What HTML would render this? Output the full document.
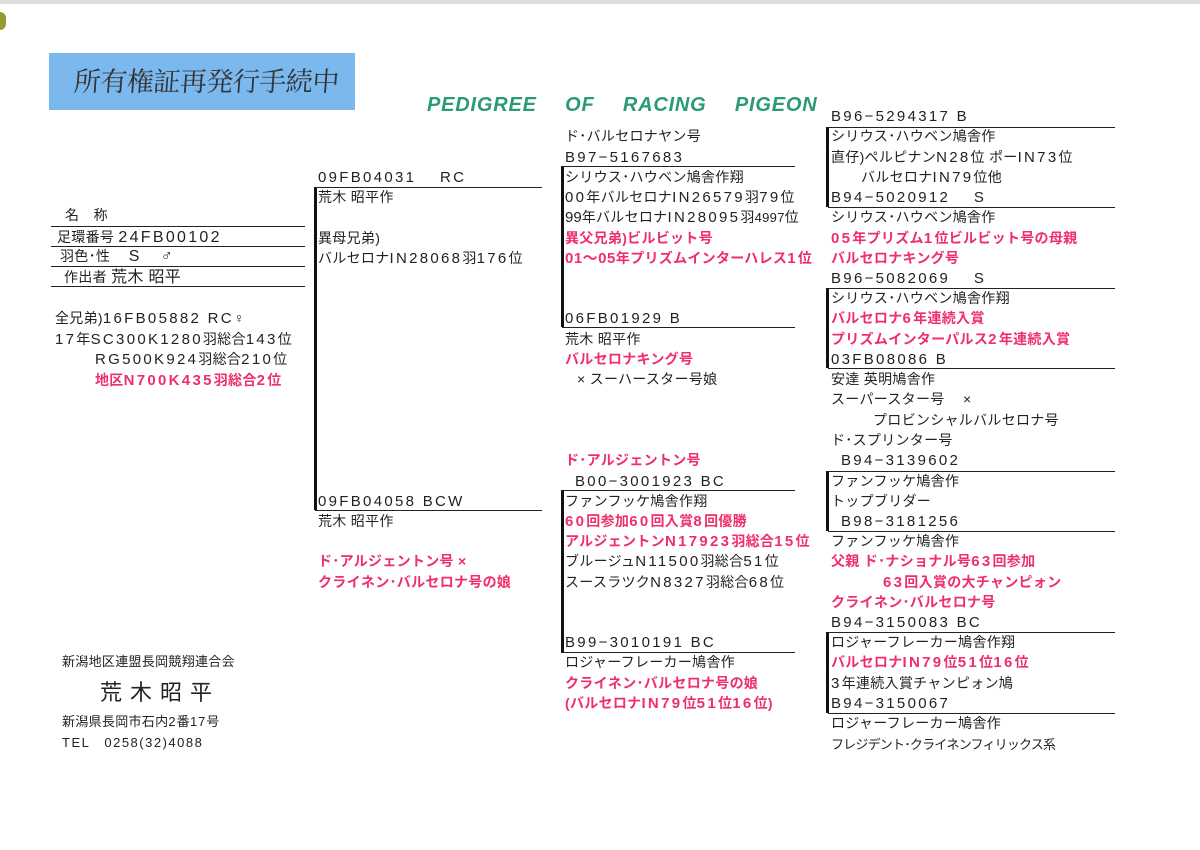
<!DOCTYPE html>
<html><head><meta charset="utf-8"><style>
body{margin:0;width:1200px;height:850px;background:#fff;position:relative;overflow:hidden;font-family:"Liberation Sans","Noto Sans CJK JP",sans-serif;color:#222;}
.t{position:absolute;font-size:14px;line-height:20px;white-space:nowrap;letter-spacing:0.3px}
.r{color:#ee2f6a;font-weight:bold}
.h{position:absolute;height:1px;background:#222}
.v{position:absolute;width:3px;background:#111}
em{font-style:normal;font-size:15px;letter-spacing:2.3px}
</style></head><body>
<div style="position:absolute;left:0;top:0;width:1200px;height:4px;background:#ddd"></div>
<div style="position:absolute;left:0;top:12px;width:6px;height:18px;background:#9a9a30;border-radius:0 6px 6px 0"></div>
<div style="position:absolute;left:49px;top:53px;width:306px;height:57px;background:#7ab8ee"></div>
<div class="t" style="left:74px;top:62px;font-size:27px;line-height:36px;font-family:'Noto Serif CJK SC',serif;color:#333;letter-spacing:-0.5px;transform:skewX(-4deg)">所有権証再発行手続中</div>
<div class="t" style="left:427px;top:94px;font-size:20px;line-height:22px;font-style:italic;font-weight:bold;color:#2a9a78;word-spacing:22px;letter-spacing:0.8px">PEDIGREE OF RACING PIGEON</div>

<!-- left info -->
<div class="t" style="left:65px;top:205px">名　称</div>
<div class="h" style="left:51px;top:226px;width:254px"></div>
<div class="t" style="left:57px;top:227px">足環番号 <em style="font-size:16px">24FB00102</em></div>
<div class="h" style="left:51px;top:246px;width:254px"></div>
<div class="t" style="left:60px;top:246px">羽色･性　 <span style="font-size:16px">S　 ♂</span></div>
<div class="h" style="left:51px;top:266px;width:254px"></div>
<div class="t" style="left:64px;top:267px">作出者 <span style="font-size:16px">荒木 昭平</span></div>
<div class="h" style="left:51px;top:286px;width:254px"></div>
<div class="t" style="left:55px;top:308px">全兄弟)<em>16FB05882  RC</em>♀</div>
<div class="t" style="left:55px;top:329px"><em>17</em>年<em>SC300K1280</em>羽総合<em>143</em>位</div>
<div class="t" style="left:95px;top:349px"><em>RG500K924</em>羽総合<em>210</em>位</div>
<div class="t r" style="left:95px;top:370px">地区<em>N700K435</em>羽総合<em>2</em>位</div>

<div class="t" style="left:62px;top:652px;font-size:13px">新潟地区連盟長岡競翔連合会</div>
<div class="t" style="left:100px;top:679px;font-size:22px;line-height:28px;letter-spacing:8px">荒木昭平</div>
<div class="t" style="left:62px;top:712px;font-size:13px">新潟県長岡市石内<em style="font-size:13px;letter-spacing:1px">2</em>番<em style="font-size:13px;letter-spacing:1px">17</em>号</div>
<div class="t" style="left:62px;top:733px;font-size:13px;letter-spacing:1.5px">TEL　0258(32)4088</div>

<!-- gen1 -->
<div class="v" style="left:314px;top:187px;height:323px"></div>
<div class="h" style="left:315px;top:187px;width:227px"></div>
<div class="h" style="left:315px;top:510px;width:227px"></div>
<div class="t" style="left:318px;top:167px"><em>09FB04031　 RC</em></div>
<div class="t" style="left:318px;top:187px">荒木 昭平作</div>
<div class="t" style="left:318px;top:228px">異母兄弟)</div>
<div class="t" style="left:318px;top:248px">バルセロナ<em>IN28068</em>羽<em>176</em>位</div>
<div class="t" style="left:318px;top:491px"><em>09FB04058  BCW</em></div>
<div class="t" style="left:318px;top:511px">荒木 昭平作</div>
<div class="t r" style="left:318px;top:551px">ド･アルジェントン号  ×</div>
<div class="t r" style="left:318px;top:572px">クライネン･バルセロナ号の娘</div>

<!-- gen2 -->
<div class="v" style="left:561px;top:166px;height:161px"></div>
<div class="h" style="left:562px;top:166px;width:233px"></div>
<div class="h" style="left:562px;top:327px;width:233px"></div>
<div class="v" style="left:561px;top:490px;height:163px"></div>
<div class="h" style="left:562px;top:490px;width:233px"></div>
<div class="h" style="left:562px;top:652px;width:233px"></div>
<div class="t" style="left:565px;top:126px">ド･バルセロナヤン号</div>
<div class="t" style="left:565px;top:147px"><em>B97−5167683</em></div>
<div class="t" style="left:565px;top:167px">シリウス･ハウベン鳩舎作翔</div>
<div class="t" style="left:565px;top:187px"><em>00</em>年バルセロナ<em>IN26579</em>羽<em>79</em>位</div>
<div class="t" style="left:565px;top:207px"><em style="letter-spacing:0">99</em>年バルセロナ<em>IN28095</em>羽<span style="font-size:13px">4997</span>位</div>
<div class="t r" style="left:565px;top:228px">異父兄弟)ビルビット号</div>
<div class="t r" style="left:565px;top:248px"><em style="letter-spacing:0.5px">01〜05</em>年プリズムインターハレス<em>1</em>位</div>
<div class="t" style="left:565px;top:308px"><em>06FB01929  B</em></div>
<div class="t" style="left:565px;top:329px">荒木 昭平作</div>
<div class="t r" style="left:565px;top:349px">バルセロナキング号</div>
<div class="t" style="left:577px;top:369px">×  スーハースター号娘</div>
<div class="t r" style="left:565px;top:450px">ド･アルジェントン号</div>
<div class="t" style="left:575px;top:471px"><em>B00−3001923  BC</em></div>
<div class="t" style="left:565px;top:491px">ファンフッケ鳩舎作翔</div>
<div class="t r" style="left:565px;top:511px"><em>60</em>回参加<em>60</em>回入賞<em>8</em>回優勝</div>
<div class="t r" style="left:565px;top:531px">アルジェントン<em>N17923</em>羽総合<em>15</em>位</div>
<div class="t" style="left:565px;top:551px">ブルージュ<em>N11500</em>羽総合<em>51</em>位</div>
<div class="t" style="left:565px;top:572px">スースラツク<em>N8327</em>羽総合<em>68</em>位</div>
<div class="t" style="left:565px;top:632px"><em>B99−3010191  BC</em></div>
<div class="t" style="left:565px;top:652px">ロジャーフレーカー鳩舎作</div>
<div class="t r" style="left:565px;top:673px">クライネン･バルセロナ号の娘</div>
<div class="t r" style="left:565px;top:693px">(バルセロナ<em>IN79</em>位<em>51</em>位<em>16</em>位)</div>

<!-- gen3 -->
<div class="v" style="left:826px;top:127px;height:80px"></div>
<div class="h" style="left:828px;top:127px;width:287px"></div>
<div class="h" style="left:828px;top:207px;width:287px"></div>
<div class="v" style="left:826px;top:288px;height:80px"></div>
<div class="h" style="left:828px;top:288px;width:287px"></div>
<div class="h" style="left:828px;top:368px;width:287px"></div>
<div class="v" style="left:826px;top:471px;height:60px"></div>
<div class="h" style="left:828px;top:471px;width:287px"></div>
<div class="h" style="left:828px;top:531px;width:287px"></div>
<div class="v" style="left:826px;top:632px;height:81px"></div>
<div class="h" style="left:828px;top:632px;width:287px"></div>
<div class="h" style="left:828px;top:713px;width:287px"></div>

<div class="t" style="left:831px;top:106px"><em>B96−5294317  B</em></div>
<div class="t" style="left:831px;top:126px">シリウス･ハウベン鳩舎作</div>
<div class="t" style="left:831px;top:147px">直仔)ペルピナン<em>N28</em>位  ポー<em>IN73</em>位</div>
<div class="t" style="left:861px;top:167px">バルセロナ<em>IN79</em>位他</div>
<div class="t" style="left:831px;top:187px"><em>B94−5020912　 S</em></div>
<div class="t" style="left:831px;top:207px">シリウス･ハウベン鳩舎作</div>
<div class="t r" style="left:831px;top:228px"><em>05</em>年プリズム<em>1</em>位ビルビット号の母親</div>
<div class="t r" style="left:831px;top:248px">バルセロナキング号</div>
<div class="t" style="left:831px;top:268px"><em>B96−5082069　 S</em></div>
<div class="t" style="left:831px;top:288px">シリウス･ハウベン鳩舎作翔</div>
<div class="t r" style="left:831px;top:308px">バルセロナ<em>6</em>年連続入賞</div>
<div class="t r" style="left:831px;top:329px">プリズムインターパルス<em>2</em>年連続入賞</div>
<div class="t" style="left:831px;top:349px"><em>03FB08086  B</em></div>
<div class="t" style="left:831px;top:369px">安達  英明鳩舎作</div>
<div class="t" style="left:831px;top:389px">スーパースター号　 ×</div>
<div class="t" style="left:873px;top:410px">プロビンシャルバルセロナ号</div>
<div class="t" style="left:831px;top:430px">ド･スプリンター号</div>
<div class="t" style="left:841px;top:450px"><em>B94−3139602</em></div>
<div class="t" style="left:831px;top:471px">ファンフッケ鳩舎作</div>
<div class="t" style="left:831px;top:491px">トップブリダー</div>
<div class="t" style="left:841px;top:511px"><em>B98−3181256</em></div>
<div class="t" style="left:831px;top:531px">ファンフッケ鳩舎作</div>
<div class="t r" style="left:831px;top:551px">父親  ド･ナショナル号<em>63</em>回参加</div>
<div class="t r" style="left:883px;top:572px"><em>63</em>回入賞の大チャンピォン</div>
<div class="t r" style="left:831px;top:592px">クライネン･バルセロナ号</div>
<div class="t" style="left:831px;top:612px"><em>B94−3150083  BC</em></div>
<div class="t" style="left:831px;top:632px">ロジャーフレーカー鳩舎作翔</div>
<div class="t r" style="left:831px;top:652px">バルセロナ<em>IN79</em>位<em>51</em>位<em>16</em>位</div>
<div class="t" style="left:831px;top:673px"><em>3</em>年連続入賞チャンピォン鳩</div>
<div class="t" style="left:831px;top:693px"><em>B94−3150067</em></div>
<div class="t" style="left:831px;top:713px">ロジャーフレーカー鳩舎作</div>
<div class="t" style="left:831px;top:735px;font-size:13px;letter-spacing:-0.8px">フレジデント･クライネンフィリックス系</div>
</body></html>
